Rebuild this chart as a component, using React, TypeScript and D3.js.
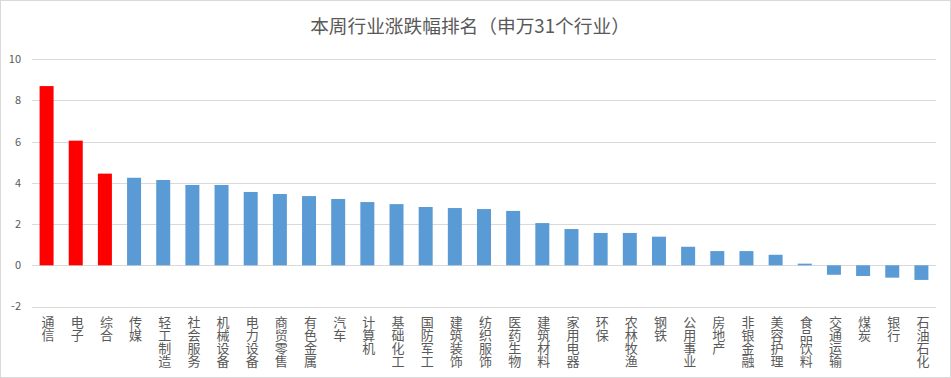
import React from "react";
import * as d3 from "d3";

const categories = ["通信","电子","综合","传媒","轻工制造","社会服务","机械设备","电力设备","商贸零售","有色金属","汽车","计算机","基础化工","国防军工","建筑装饰","纺织服饰","医药生物","建筑材料","家用电器","环保","农林牧渔","钢铁","公用事业","房地产","非银金融","美容护理","食品饮料","交通运输","煤炭","银行","石油石化"];
const values = [8.70,6.05,4.45,4.25,4.14,3.90,3.90,3.56,3.46,3.36,3.22,3.07,2.97,2.83,2.78,2.73,2.64,2.05,1.76,1.57,1.57,1.39,0.90,0.69,0.69,0.51,0.08,-0.46,-0.52,-0.60,-0.71];
const highlighted = ["通信","电子","综合"];
const yTicks = [-2,0,2,4,6,8,10];
const title = "本周行业涨跌幅排名（申万31个行业）";

const W = 951, H = 378;
const FONT = "'Noto Sans CJK SC', 'Noto Sans', sans-serif";

export default function App() {
  const x = d3.scaleBand<string>().domain(categories).range([32, 936]).paddingInner(0.52).paddingOuter(0.26);
  const y = d3.scaleLinear().domain([-2, 10]).range([306.5, 59.3]);
  return (
    <div style={{ position: "absolute", left: 0, top: 0 }}>
      <svg width={W} height={H} style={{ display: "block", background: "#fff" }}>
        <rect x={0.5} y={0.5} width={W - 1} height={H - 1} fill="#fff" stroke="#d9d9d9" />
        <text x={470} y={33} textAnchor="middle" fontSize={18.7} fill="#595959" fontFamily={FONT}>{title}</text>
        {yTicks.map(t => (
          <g key={t}>
            <line x1={32} x2={936} y1={Math.round(y(t)) + 0.5} y2={Math.round(y(t)) + 0.5} stroke="#d9d9d9" strokeWidth={1} />
            <text x={21} y={y(t)} dy="0.35em" textAnchor="end" fontSize={11} fill="#595959" fontFamily={FONT}>{t}</text>
          </g>
        ))}
        {categories.map((c, i) => {
          const v = values[i];
          const y0 = y(0), y1 = y(v);
          return (
            <rect key={c} x={x(c)} width={x.bandwidth()} y={Math.min(y0, y1)} height={Math.abs(y1 - y0)}
              fill={highlighted.includes(c) ? "#FF0000" : "#5B9BD5"} />
          );
        })}
        {categories.map(c => (
          <text key={"l" + c} x={(x(c) as number) + x.bandwidth() / 2 + 1.5} y={316} fontSize={13} fill="#595959"
            fontFamily={FONT} style={{ writingMode: "vertical-rl", textOrientation: "upright" } as any}>{c}</text>
        ))}
      </svg>
    </div>
  );
}
